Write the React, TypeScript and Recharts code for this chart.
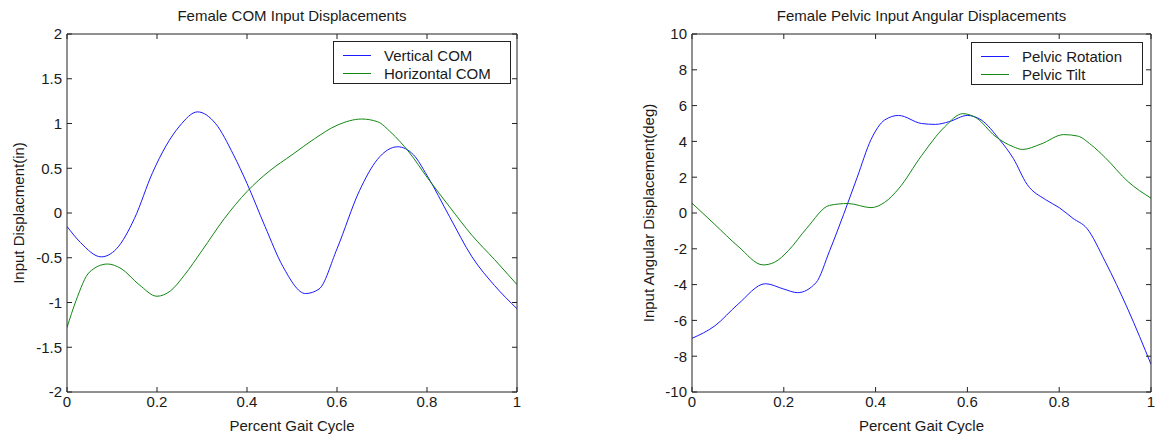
import React from 'react';
import { LineChart, Line, XAxis, YAxis } from 'recharts';

// left chart: COM displacements (in)
const vertComX = [0, 0.03, 0.076, 0.11, 0.15, 0.19, 0.22, 0.25, 0.29, 0.33, 0.37, 0.4, 0.44, 0.48, 0.53, 0.56, 0.6, 0.65, 0.69, 0.735, 0.77, 0.8, 0.85, 0.9, 0.95, 1];
const vertComY = [-0.15, -0.33, -0.49, -0.4, -0.06, 0.45, 0.75, 0.97, 1.13, 1.0, 0.65, 0.33, -0.15, -0.6, -0.9, -0.85, -0.4, 0.25, 0.6, 0.74, 0.65, 0.42, -0.04, -0.49, -0.81, -1.07];
const horzComX = [0, 0.02, 0.05, 0.09, 0.12, 0.16, 0.2, 0.23, 0.26, 0.3, 0.35, 0.4, 0.45, 0.5, 0.55, 0.6, 0.655, 0.69, 0.72, 0.76, 0.8, 0.85, 0.9, 0.95, 1];
const horzComY = [-1.28, -0.98, -0.66, -0.57, -0.62, -0.8, -0.93, -0.87, -0.7, -0.42, -0.06, 0.24, 0.47, 0.65, 0.83, 0.98, 1.05, 1.02, 0.9, 0.68, 0.4, 0.07, -0.25, -0.52, -0.8];

// right chart: pelvic angles (deg)
const rotX = [0, 0.05, 0.1, 0.16, 0.2, 0.23, 0.27, 0.3, 0.33, 0.36, 0.39, 0.42, 0.45, 0.5, 0.53, 0.56, 0.6, 0.63, 0.67, 0.7, 0.73, 0.77, 0.8, 0.83, 0.86, 0.9, 0.95, 1];
const rotY = [-7.0, -6.3, -5.1, -3.95, -4.25, -4.45, -3.9, -2.1, -0.1, 2.0, 4.1, 5.2, 5.45, 5.0, 4.95, 5.1, 5.45, 5.2, 4.1, 3.05, 1.6, 0.75, 0.3, -0.3, -0.85, -2.7, -5.4, -8.45];
const tiltX = [0, 0.05, 0.1, 0.155, 0.18, 0.21, 0.25, 0.3, 0.34, 0.39, 0.42, 0.45, 0.5, 0.55, 0.59, 0.62, 0.66, 0.7, 0.72, 0.76, 0.81, 0.84, 0.87, 0.9, 0.95, 1];
const tiltY = [0.55, -0.65, -1.85, -2.9, -2.75, -2.1, -0.85, 0.43, 0.53, 0.3, 0.6, 1.35, 3.2, 4.8, 5.55, 5.3, 4.3, 3.7, 3.55, 3.85, 4.38, 4.3, 3.8, 3.1, 1.75, 0.83];

const xTicks = [0, 0.2, 0.4, 0.6, 0.8, 1];
const comTicks = [-2, -1.5, -1, -0.5, 0, 0.5, 1, 1.5, 2];
const pelvicTicks = [-10, -8, -6, -4, -2, 0, 2, 4, 6, 8, 10];

const zip = (xs: number[], ys: number[]) => xs.map((x, i) => ({ x, y: ys[i] }));

const FONT = '"Liberation Sans", Arial, sans-serif';
const TEXT = '#1a1a1a';
const AXIS = '#222';
const BLUE = '#1a1aff';
const GREEN = '#118811';

type Series = { name: string; color: string; data: { x: number; y: number }[] };

// matlab-style boxed legend
const BoxLegend = ({ series, left, top, width }: { series: Series[]; left: number; top: number; width: number }) => (
  <div
    style={{
      position: 'absolute',
      left,
      top,
      width,
      height: 43,
      boxSizing: 'border-box',
      border: `1px solid ${AXIS}`,
      background: '#fff',
      padding: '4px 0 0 9px',
      fontFamily: FONT,
      fontSize: 15,
      color: TEXT,
    }}
  >
    {series.map((s) => (
      <div key={s.name} style={{ display: 'flex', alignItems: 'center', height: 18 }}>
        <span style={{ display: 'inline-block', width: 28, borderTop: `1px solid ${s.color}`, marginRight: 13 }} />
        <span>{s.name}</span>
      </div>
    ))}
  </div>
);

const NoLabel = () => <g />;

interface PanelProps {
  left: number;
  width: number;
  yAxisWidth: number;
  marginRight: number;
  title: string;
  yLabel: string;
  yLabelX: number;
  domain: [number, number];
  yTicks: number[];
  series: Series[];
  legendLeft: number;
  legendTop: number;
  legendWidth: number;
}

const Panel: React.FC<PanelProps> = (p) => {
  const plotLeft = p.yAxisWidth;
  const plotRight = p.width - p.marginRight;
  const tickStyle = { fontSize: 15, fill: TEXT, fontFamily: FONT };
  return (
    <div style={{ position: 'absolute', left: p.left, top: 0, width: p.width, height: 438 }}>
      <div
        style={{
          position: 'absolute',
          left: plotLeft,
          width: plotRight - plotLeft,
          top: 7,
          textAlign: 'center',
          fontFamily: FONT,
          fontSize: 15,
          color: TEXT,
        }}
      >
        {p.title}
      </div>
      <LineChart width={p.width} height={438} margin={{ top: 34, right: p.marginRight, bottom: 2, left: 0 }}>
        <XAxis
          xAxisId="main"
          dataKey="x"
          type="number"
          domain={[0, 1]}
          ticks={xTicks}
          allowDataOverflow
          height={44}
          tickLine={false}
          tickSize={0}
          tickMargin={4}
          axisLine={{ stroke: AXIS }}
          tick={tickStyle}
          label={{ value: 'Percent Gait Cycle', position: 'insideBottom', offset: 5, style: { fontSize: 15, fill: TEXT, fontFamily: FONT } }}
        />
        <XAxis
          xAxisId="bm"
          dataKey="x"
          type="number"
          orientation="bottom"
          mirror
          domain={[0, 1]}
          ticks={xTicks}
          allowDataOverflow
          tick={NoLabel}
          tickSize={5}
          tickLine={{ stroke: AXIS }}
          axisLine={false}
        />
        <XAxis
          xAxisId="tm"
          dataKey="x"
          type="number"
          orientation="top"
          mirror
          domain={[0, 1]}
          ticks={xTicks}
          allowDataOverflow
          tick={NoLabel}
          tickSize={5}
          tickLine={{ stroke: AXIS }}
          axisLine={{ stroke: AXIS }}
        />
        <YAxis
          yAxisId="main"
          type="number"
          domain={p.domain}
          ticks={p.yTicks}
          allowDataOverflow
          width={p.yAxisWidth}
          tickLine={false}
          tickSize={0}
          tickMargin={5}
          axisLine={{ stroke: AXIS }}
          tick={tickStyle}
          label={{
            value: p.yLabel,
            angle: -90,
            position: 'insideLeft',
            offset: p.yLabelX,
            style: { textAnchor: 'middle', fontSize: 15, fill: TEXT, fontFamily: FONT },
          }}
        />
        <YAxis
          yAxisId="lm"
          type="number"
          orientation="left"
          mirror
          domain={p.domain}
          ticks={p.yTicks}
          allowDataOverflow
          tick={NoLabel}
          tickSize={5}
          tickLine={{ stroke: AXIS }}
          axisLine={false}
        />
        <YAxis
          yAxisId="rm"
          type="number"
          orientation="right"
          mirror
          domain={p.domain}
          ticks={p.yTicks}
          allowDataOverflow
          tick={NoLabel}
          tickSize={5}
          tickLine={{ stroke: AXIS }}
          axisLine={{ stroke: AXIS }}
        />
        {p.series.map((s) => (
          <Line
            key={s.name}
            xAxisId="main"
            yAxisId="main"
            data={s.data}
            dataKey="y"
            name={s.name}
            type="monotone"
            stroke={s.color}
            strokeWidth={1}
            dot={false}
            activeDot={false}
            isAnimationActive={false}
          />
        ))}
      </LineChart>
      <BoxLegend series={p.series} left={p.legendLeft} top={p.legendTop} width={p.legendWidth} />
    </div>
  );
};

export default function App() {
  return (
    <div style={{ position: 'absolute', left: 0, top: 0, width: 1159, height: 438, background: '#fff', overflow: 'hidden' }}>
      <Panel
        left={0}
        width={580}
        yAxisWidth={67}
        marginRight={63}
        title="Female COM Input Displacements"
        yLabel="Input Displacment(in)"
        yLabelX={19}
        domain={[-2, 2]}
        yTicks={comTicks}
        series={[
          { name: 'Vertical COM', color: BLUE, data: zip(vertComX, vertComY) },
          { name: 'Horizontal COM', color: GREEN, data: zip(horzComX, horzComY) },
        ]}
        legendLeft={333}
        legendTop={41}
        legendWidth={178}
      />
      <Panel
        left={580}
        width={579}
        yAxisWidth={112}
        marginRight={8}
        title="Female Pelvic Input Angular Displacements"
        yLabel="Input Angular Displacement(deg)"
        yLabelX={69}
        domain={[-10, 10]}
        yTicks={pelvicTicks}
        series={[
          { name: 'Pelvic Rotation', color: BLUE, data: zip(rotX, rotY) },
          { name: 'Pelvic Tilt', color: GREEN, data: zip(tiltX, tiltY) },
        ]}
        legendLeft={391}
        legendTop={42}
        legendWidth={172}
      />
    </div>
  );
}
